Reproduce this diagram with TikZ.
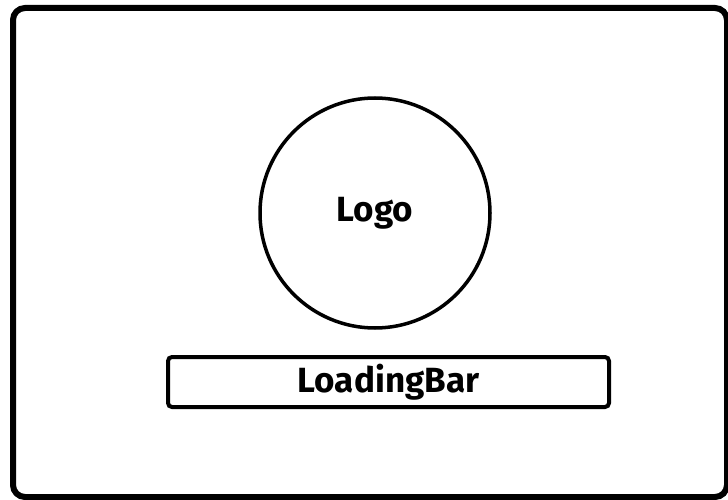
\documentclass[tikz,border=0pt]{standalone}
\usepackage{fontspec}
\setmainfont{Fira Sans}
\begin{document}
\begin{tikzpicture}[x=1pt,y=-1pt,
  lbl/.style={font=\fontsize{35}{40}\selectfont\bfseries},
  frame/.style={draw=black,line width=6pt,rounded corners=12pt},
  bar/.style={draw=black,line width=4pt,rounded corners=4pt,minimum width=441pt,minimum height=50pt,inner sep=0pt}]
\useasboundingbox (0,0) rectangle (728,500);
\draw[frame] (13,8) rectangle (727,497);
\node[draw=black,line width=3.5pt,circle,minimum size=230pt,inner sep=0pt,lbl] (logo) at (375,213) {Logo};
\node[bar,lbl] (loadbar) at (388.5,382) {LoadingBar};
\end{tikzpicture}
\end{document}
